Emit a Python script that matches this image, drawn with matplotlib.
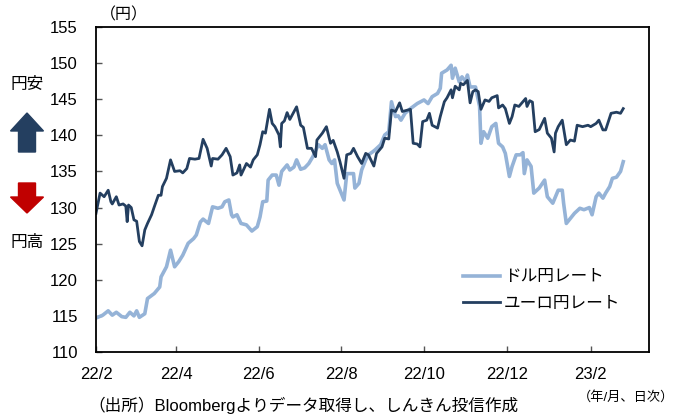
import matplotlib
matplotlib.use("Agg")
import matplotlib.pyplot as plt
import matplotlib.patches as mpatches
import pandas as pd

plt.rcParams['font.family'] = ['Liberation Sans', 'Noto Sans CJK JP', 'DejaVu Sans']

# ---- data (days since 2022-02-01, value in JPY) ----
usd_days = [0, 5, 9, 12, 15, 19, 22, 25, 28, 30, 32, 36, 38, 43, 47, 48, 52, 55, 58, 61,
            64, 68, 72, 74, 77, 79, 83, 86, 90, 93, 95, 98, 100, 101, 104, 107, 111, 115, 119, 121,
            123, 126, 127, 130, 133, 135, 137, 141, 143, 146, 148, 151, 154, 157, 160, 164, 167, 169, 172, 174,
            176, 178, 183, 185, 190, 191, 194, 196, 199, 201, 204, 206, 210, 213, 216, 218, 221, 223, 225, 228,
            232, 237, 242, 245, 248, 252, 254, 255, 259, 262, 263, 265, 268, 270, 273, 274, 276, 280, 283, 284,
            286, 289, 292, 295, 297, 300, 302, 305, 307, 310, 313, 315, 316, 318, 321, 323, 327, 331, 333, 337,
            341, 344, 345, 347, 350, 353, 357, 360, 364, 366, 369, 371, 374, 376, 379, 381, 384, 387, 389]
usd_vals = [114.7, 115.1, 115.7, 115.1, 115.5, 114.9, 114.8, 115.5, 115.0, 115.7, 114.8, 115.3, 117.4, 118.1, 119.0, 120.4, 121.8, 124.1, 121.8, 122.5,
            123.4, 125.05, 125.7, 126.2, 128.0, 128.4, 127.8, 130.1, 129.9, 130.1, 130.8, 131.05, 129.0, 128.7, 129.0, 127.8, 127.6, 126.75, 127.35, 128.7,
            130.8, 130.9, 133.8, 134.5, 134.5, 133.1, 135.0, 135.9, 135.2, 135.6, 136.6, 135.3, 135.5, 136.1, 137.05, 138.7, 138.2, 138.7, 136.6, 136.1,
            136.6, 133.35, 131.05, 134.7, 134.7, 132.7, 133.35, 135.2, 136.6, 137.3, 137.7, 138.0, 138.7, 140.05, 140.5, 144.65, 142.6, 142.7, 142.1, 143.05,
            143.7, 144.4, 144.9, 144.4, 145.35, 145.8, 146.5, 148.6, 149.05, 149.7, 147.9, 149.3, 147.4, 148.1, 147.4, 148.35, 146.7, 146.7, 144.0, 138.9,
            140.5, 139.6, 141.2, 141.65, 138.9, 138.4, 137.5, 134.3, 135.7, 137.3, 137.3, 137.6, 134.7, 136.6, 135.7, 132.0, 132.7, 133.8, 131.5, 130.6,
            132.4, 132.4, 130.6, 127.8, 128.5, 129.2, 129.9, 129.7, 130.0, 129.0, 131.5, 132.0, 131.3, 132.0, 132.9, 134.05, 134.2, 135.0, 136.35]

eur_days = [0, 3, 6, 9, 11, 12, 15, 17, 20, 22, 23, 24, 26, 28, 30, 32, 34, 36, 38, 41,
            43, 46, 48, 49, 52, 55, 58, 62, 64, 67, 69, 73, 76, 79, 82, 85, 86, 90, 93, 96,
            99, 101, 104, 106, 107, 111, 114, 116, 119, 121, 123, 125, 128, 130, 132, 135, 136, 137, 139, 141,
            143, 145, 148, 151, 153, 156, 159, 162, 163, 167, 170, 173, 175, 178, 180, 183, 185, 188, 190, 193,
            196, 199, 201, 205, 207, 211, 213, 216, 218, 221, 224, 226, 230, 232, 234, 237, 239, 241, 244, 246,
            248, 252, 254, 257, 259, 262, 263, 265, 268, 269, 271, 274, 276, 278, 280, 282, 284, 287, 290, 292,
            296, 297, 300, 302, 305, 307, 309, 312, 315, 317, 318, 320, 322, 324, 327, 331, 333, 336, 338, 339,
            341, 344, 347, 350, 353, 355, 359, 363, 365, 369, 371, 374, 376, 380, 384, 387, 389]
eur_vals = [129.2, 132.0, 131.5, 132.4, 130.8, 130.5, 131.5, 130.35, 130.5, 130.2, 128.05, 130.35, 130.0, 128.3, 128.1, 125.3, 124.7, 126.9, 127.8, 129.0,
            130.1, 131.7, 131.7, 132.9, 134.05, 136.6, 135.0, 135.1, 134.8, 135.4, 136.8, 136.7, 136.8, 139.45, 138.2, 135.75, 136.8, 136.7, 137.3, 138.2,
            137.05, 134.5, 134.8, 135.9, 134.5, 136.1, 135.6, 136.6, 137.3, 138.7, 140.5, 140.3, 143.6, 141.65, 141.2, 140.05, 138.4, 141.65, 142.0, 143.15,
            142.2, 142.9, 143.95, 141.4, 141.1, 138.2, 138.2, 137.05, 139.35, 140.3, 141.2, 138.9, 139.3, 137.7, 136.35, 134.05, 137.3, 137.5, 138.2, 137.05,
            136.1, 137.5, 137.3, 135.75, 137.5, 138.4, 139.6, 139.5, 143.5, 143.3, 144.5, 143.3, 143.5, 143.6, 138.9, 138.8, 138.4, 141.9, 142.1, 143.05,
            141.4, 141.0, 142.6, 144.65, 145.2, 146.3, 145.2, 146.8, 146.3, 147.2, 147.0, 147.6, 144.5, 146.05, 146.3, 146.05, 143.6, 144.9, 144.7, 145.2,
            145.5, 143.8, 144.2, 143.7, 141.65, 142.6, 144.2, 144.0, 144.65, 145.1, 144.0, 144.8, 144.6, 140.5, 140.8, 142.35, 140.3, 139.6, 137.7, 140.3,
            141.2, 142.1, 138.7, 139.35, 139.2, 141.4, 141.2, 141.4, 141.2, 141.65, 142.1, 140.75, 140.75, 143.05, 143.2, 143.05, 143.7]

start_date = "2022-02-01"
end_date = "2023-03-16"
tick_dates = ["2022-02-01", "2022-04-01", "2022-06-01", "2022-08-01", "2022-10-01", "2022-12-01", "2023-02-01"]
tick_labels = ["22/2", "22/4", "22/6", "22/8", "22/10", "22/12", "23/2"]
y_ticks = [110, 115, 120, 125, 130, 135, 140, 145, 150, 155]
series_names = ["ドル円レート", "ユーロ円レート"]

base = pd.Timestamp(start_date)
usd_x = base + pd.to_timedelta(usd_days, unit="D")
eur_x = base + pd.to_timedelta(eur_days, unit="D")

fig = plt.figure(figsize=(6.75, 4.16), dpi=100)
ax = fig.add_axes([96 / 675, 1 - 352 / 416, (649 - 96) / 675, (352 - 27) / 416])

c_light = "#95B3D7"
c_dark = "#243F60"
ax.plot(usd_x, usd_vals, color=c_light, lw=2.6, label=series_names[0], solid_joinstyle="round")
ax.plot(eur_x, eur_vals, color=c_dark, lw=2.0, label=series_names[1], solid_joinstyle="round")

ax.set_xlim(base, pd.Timestamp(end_date))
ax.set_ylim(110, 155)
ax.set_yticks(y_ticks)
ax.set_xticks(pd.to_datetime(tick_dates))
ax.set_xticklabels(tick_labels)
ax.tick_params(axis="both", direction="in", length=4, width=1, color="#555555", labelsize=12)
ax.tick_params(axis="x", pad=11)
ax.tick_params(axis="y", pad=13)
for s in ax.spines.values():
    s.set_linewidth(1.3)
    s.set_color("black")

leg = ax.legend(loc="lower right", bbox_to_anchor=(0.975, 0.08), frameon=False, fontsize=12,
                handlelength=2.2, handletextpad=0.25, labelspacing=0.7)

fig.text(100 / 675, 1 - 15 / 416, "（円）", fontsize=11.5, ha="left", va="center")
fig.text(27 / 675, 1 - 85 / 416, "円安", fontsize=12, ha="center", va="center")
fig.text(27 / 675, 1 - 242 / 416, "円高", fontsize=12, ha="center", va="center")

up = mpatches.FancyArrow(27 / 675, 1 - 152 / 416, 0, 39 / 416, width=17 / 675, head_width=33 / 675,
                         head_length=18 / 416, length_includes_head=True, color="#243F60",
                         transform=fig.transFigure, figure=fig)
down = mpatches.FancyArrow(27 / 675, 1 - 183 / 416, 0, -30 / 416, width=17 / 675, head_width=33 / 675,
                           head_length=16 / 416, length_includes_head=True, color="#C00000",
                           transform=fig.transFigure, figure=fig)
fig.patches.extend([up, down])

fig.text(88 / 675, 1 - 405 / 416, "（出所）Bloombergよりデータ取得し、しんきん投信作成", fontsize=12,
         ha="left", va="center")
fig.text(674 / 675, 1 - 397 / 416, "（年/月、日次）", fontsize=9.5, ha="right", va="center")

fig.savefig("out.png", dpi=100)
